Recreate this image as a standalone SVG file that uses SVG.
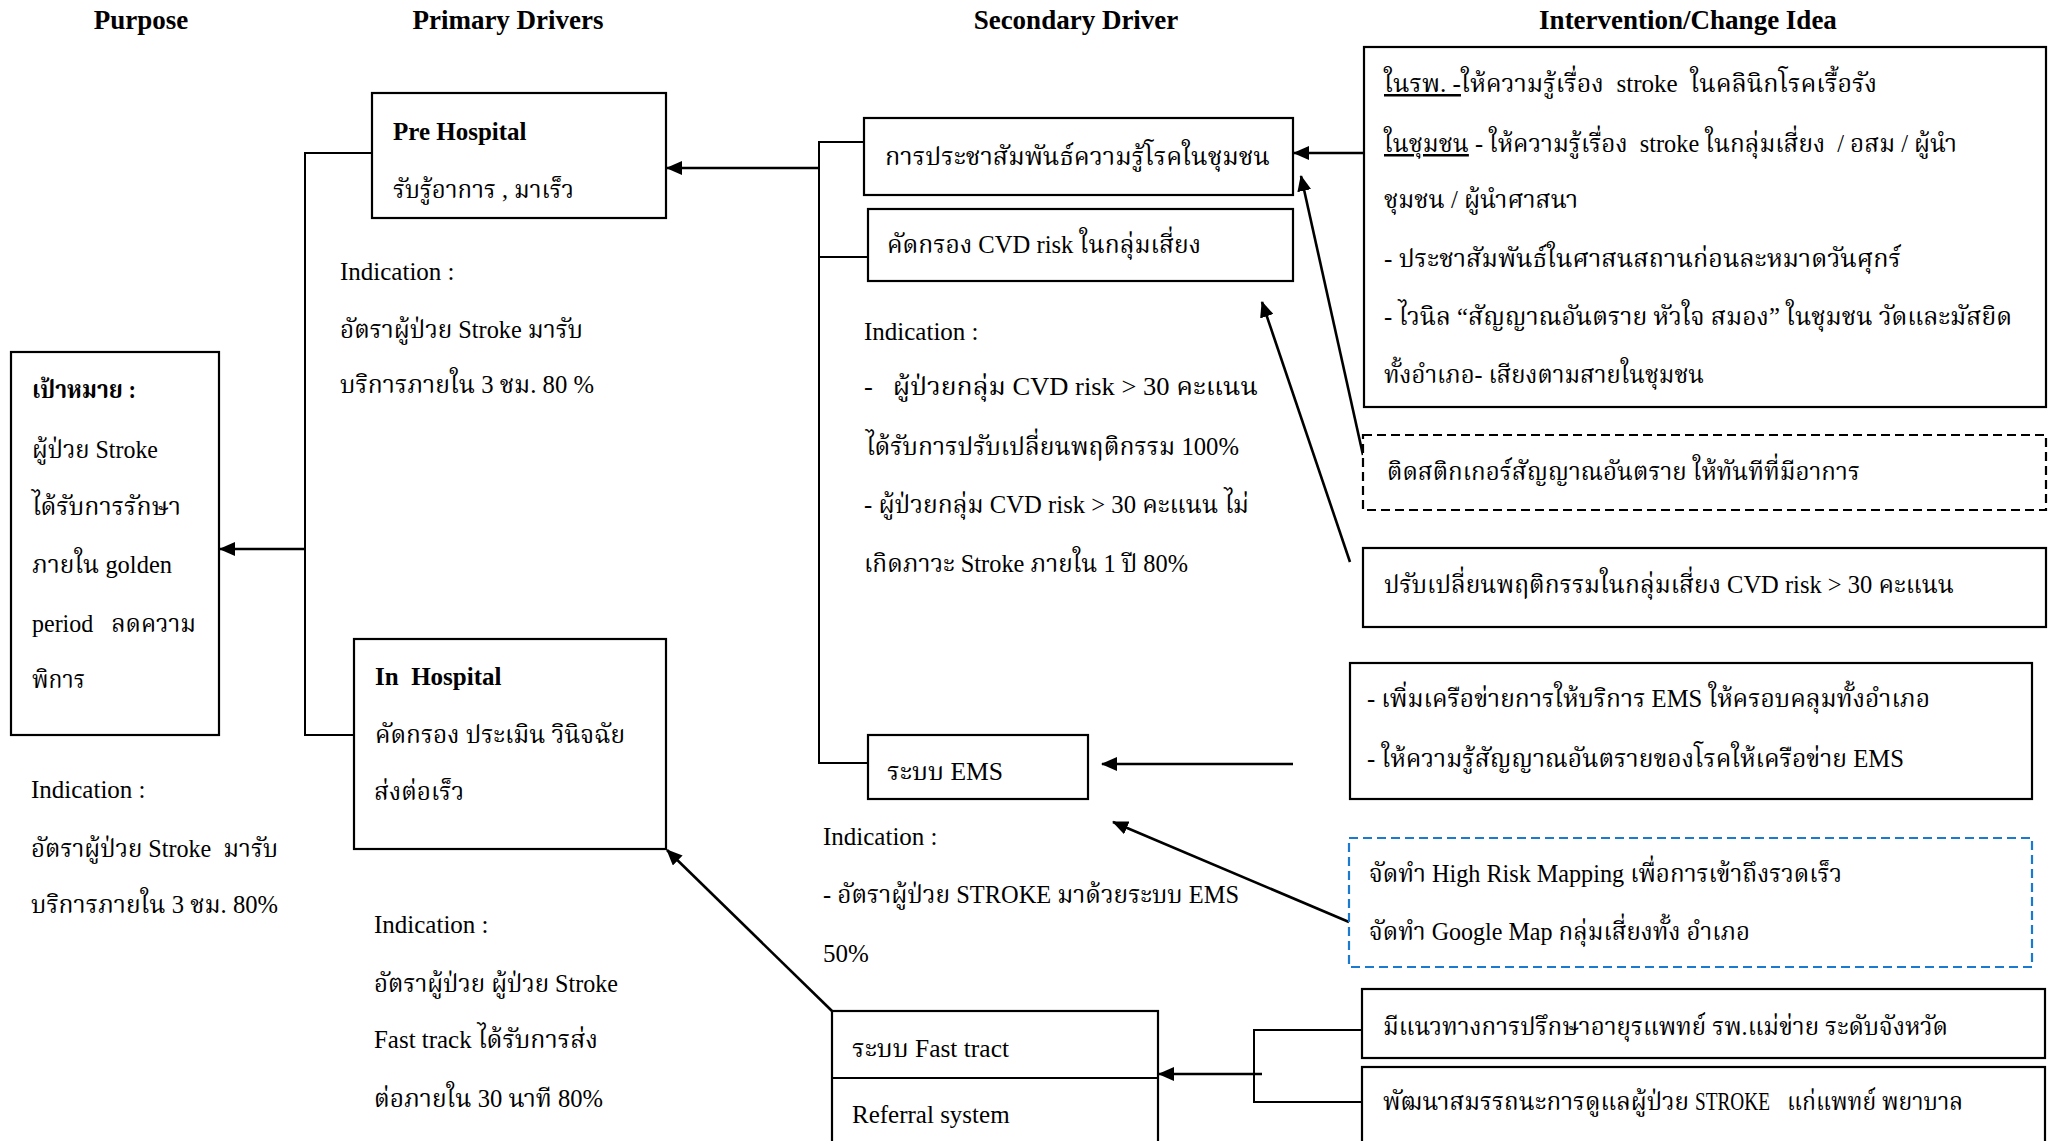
<svg xmlns="http://www.w3.org/2000/svg" width="2054" height="1141" viewBox="0 0 2054 1141">
<defs>
<style>
text{font-family:"Liberation Serif","Noto Serif Thai","Noto Sans Thai",serif;font-size:25px;fill:#000}
.h{font-weight:bold;font-size:27px;text-anchor:middle}
.b{font-weight:bold}
.box{fill:#fff;stroke:#000;stroke-width:2.2}
.dash{fill:#fff;stroke:#000;stroke-width:2.2;stroke-dasharray:9 5}
.blue{fill:#fff;stroke:#1a7ad0;stroke-width:2.2;stroke-dasharray:9 5}
.ln{fill:none;stroke:#000;stroke-width:2}
.ar{fill:none;stroke:#000;stroke-width:2.6;marker-end:url(#ah)}
.u{text-decoration:underline}
</style>
<marker id="ah" markerUnits="userSpaceOnUse" markerWidth="16" markerHeight="14" refX="15" refY="7" orient="auto">
<path d="M0,0 L16,7 L0,14 z" fill="#000"/>
</marker>
</defs>
<rect width="2054" height="1141" fill="#fff"/>

<g id="headers">
<text class="h" x="141" y="29">Purpose</text>
<text class="h" x="508" y="29">Primary Drivers</text>
<text class="h" x="1076" y="29">Secondary Driver</text>
<text class="h" x="1688" y="29">Intervention/Change Idea</text>
</g>

<g id="connectors">
<polyline class="ln" points="372,153 305,153 305,735 354,735"/>
<line class="ar" x1="305" y1="549" x2="220" y2="549"/>
<polyline class="ln" points="864,142 819,142 819,763 868,763"/>
<line class="ln" x1="819" y1="257" x2="868" y2="257"/>
<line class="ar" x1="819" y1="168" x2="667" y2="168"/>
<line class="ar" x1="1364" y1="153" x2="1294" y2="153"/>
<line class="ar" x1="1363" y1="455" x2="1301" y2="176"/>
<line class="ar" x1="1350" y1="562" x2="1262" y2="302"/>
<line class="ar" x1="1293" y1="764" x2="1102" y2="764"/>
<line class="ar" x1="1349" y1="922" x2="1113" y2="822"/>
<line class="ar" x1="832" y1="1011" x2="667" y2="850"/>
<polyline class="ln" points="1362,1030 1254,1030 1254,1102 1362,1102"/>
<line class="ar" x1="1262" y1="1074" x2="1159" y2="1074"/>
</g>

<g id="goal">
<rect class="box" x="11" y="352" width="208" height="383"/>
<text class="b" x="32" y="398" textLength="104" lengthAdjust="spacingAndGlyphs">เป้าหมาย :</text>
<text x="32" y="458" textLength="126" lengthAdjust="spacingAndGlyphs">ผู้ป่วย Stroke</text>
<text x="32" y="515" textLength="149" lengthAdjust="spacingAndGlyphs">ได้รับการรักษา</text>
<text x="32" y="573" textLength="140" lengthAdjust="spacingAndGlyphs">ภายใน golden</text>
<text x="32" y="632" textLength="164" lengthAdjust="spacingAndGlyphs" xml:space="preserve">period   ลดความ</text>
<text x="32" y="688" textLength="53" lengthAdjust="spacingAndGlyphs">พิการ</text>
</g>
<g id="goal-indication">
<text x="31" y="798">Indication :</text>
<text x="31" y="857" textLength="247" lengthAdjust="spacingAndGlyphs" xml:space="preserve">อัตราผู้ป่วย Stroke  มารับ</text>
<text x="31" y="913" textLength="247" lengthAdjust="spacingAndGlyphs">บริการภายใน 3 ชม. 80%</text>
</g>

<g id="pre-hospital">
<rect class="box" x="372" y="93" width="294" height="125"/>
<text class="b" x="393" y="140">Pre Hospital</text>
<text x="393" y="198" textLength="181" lengthAdjust="spacingAndGlyphs">รับรู้อาการ , มาเร็ว</text>
</g>
<g id="pre-indication">
<text x="340" y="280">Indication :</text>
<text x="340" y="338" textLength="243" lengthAdjust="spacingAndGlyphs">อัตราผู้ป่วย Stroke มารับ</text>
<text x="340" y="393" textLength="254" lengthAdjust="spacingAndGlyphs">บริการภายใน 3 ชม. 80 %</text>
</g>

<g id="in-hospital">
<rect class="box" x="354" y="639" width="312" height="210"/>
<text class="b" x="375" y="685" xml:space="preserve">In  Hospital</text>
<text x="375" y="743" textLength="250" lengthAdjust="spacingAndGlyphs">คัดกรอง ประเมิน วินิจฉัย</text>
<text x="374" y="800" textLength="90" lengthAdjust="spacingAndGlyphs">ส่งต่อเร็ว</text>
</g>
<g id="in-indication">
<text x="374" y="933">Indication :</text>
<text x="374" y="992" textLength="244" lengthAdjust="spacingAndGlyphs">อัตราผู้ป่วย ผู้ป่วย Stroke</text>
<text x="374" y="1048" textLength="224" lengthAdjust="spacingAndGlyphs">Fast track ได้รับการส่ง</text>
<text x="374" y="1107" textLength="229" lengthAdjust="spacingAndGlyphs">ต่อภายใน 30 นาที 80%</text>
</g>

<g id="sd-publicity">
<rect class="box" x="864" y="118" width="429" height="77"/>
<text x="885" y="165" textLength="385" lengthAdjust="spacingAndGlyphs">การประชาสัมพันธ์ความรู้โรคในชุมชน</text>
</g>
<g id="sd-screening">
<rect class="box" x="868" y="209" width="425" height="72"/>
<text x="887" y="253" textLength="314" lengthAdjust="spacingAndGlyphs">คัดกรอง CVD risk ในกลุ่มเสี่ยง</text>
</g>
<g id="sd-indication">
<text x="864" y="340">Indication :</text>
<text x="864" y="395" textLength="394" lengthAdjust="spacingAndGlyphs" xml:space="preserve">-   ผู้ป่วยกลุ่ม CVD risk &gt; 30 คะแนน</text>
<text x="866" y="455" textLength="373" lengthAdjust="spacingAndGlyphs">ได้รับการปรับเปลี่ยนพฤติกรรม 100%</text>
<text x="864" y="513" textLength="385" lengthAdjust="spacingAndGlyphs">- ผู้ป่วยกลุ่ม CVD risk &gt; 30 คะแนน ไม่</text>
<text x="864" y="572" textLength="324" lengthAdjust="spacingAndGlyphs">เกิดภาวะ Stroke ภายใน 1 ปี 80%</text>
</g>
<g id="sd-ems">
<rect class="box" x="868" y="735" width="220" height="64"/>
<text x="887" y="780" textLength="116" lengthAdjust="spacingAndGlyphs">ระบบ EMS</text>
</g>
<g id="ems-indication">
<text x="823" y="845">Indication :</text>
<text x="823" y="903" textLength="416" lengthAdjust="spacingAndGlyphs">- อัตราผู้ป่วย STROKE มาด้วยระบบ EMS</text>
<text x="823" y="962">50%</text>
</g>
<g id="sd-fasttract">
<rect class="box" x="832" y="1011" width="326" height="150"/>
<line class="ln" x1="832" y1="1078" x2="1158" y2="1078"/>
<text x="852" y="1057" textLength="157" lengthAdjust="spacingAndGlyphs">ระบบ Fast tract</text>
<text x="852" y="1123">Referral system</text>
</g>

<g id="iv-education">
<rect class="box" x="1364" y="47" width="682" height="360"/>
<text x="1384" y="92" textLength="493" lengthAdjust="spacingAndGlyphs" xml:space="preserve"><tspan class="u">ในรพ. -</tspan>ให้ความรู้เรื่อง  stroke  ในคลินิกโรคเรื้อรัง</text>
<text x="1384" y="152" textLength="573" lengthAdjust="spacingAndGlyphs" xml:space="preserve"><tspan class="u">ในชุมชน</tspan> - ให้ความรู้เรื่อง  stroke ในกลุ่มเสี่ยง  / อสม / ผู้นำ</text>
<text x="1384" y="208" textLength="194" lengthAdjust="spacingAndGlyphs">ชุมชน / ผู้นำศาสนา</text>
<text x="1384" y="267" textLength="517" lengthAdjust="spacingAndGlyphs">- ประชาสัมพันธ์ในศาสนสถานก่อนละหมาดวันศุกร์</text>
<text x="1384" y="325" textLength="628" lengthAdjust="spacingAndGlyphs">- ไวนิล “สัญญาณอันตราย หัวใจ สมอง” ในชุมชน วัดและมัสยิด</text>
<text x="1384" y="383" textLength="320" lengthAdjust="spacingAndGlyphs">ทั้งอำเภอ- เสียงตามสายในชุมชน</text>
</g>
<g id="iv-sticker">
<rect class="dash" x="1363" y="435" width="683" height="75"/>
<text x="1387" y="480" textLength="473" lengthAdjust="spacingAndGlyphs">ติดสติกเกอร์สัญญาณอันตราย ให้ทันทีที่มีอาการ</text>
</g>
<g id="iv-behavior">
<rect class="box" x="1363" y="548" width="683" height="79"/>
<text x="1384" y="593" textLength="570" lengthAdjust="spacingAndGlyphs">ปรับเปลี่ยนพฤติกรรมในกลุ่มเสี่ยง CVD risk &gt; 30 คะแนน</text>
</g>
<g id="iv-ems">
<rect class="box" x="1350" y="663" width="682" height="136"/>
<text x="1367" y="707" textLength="563" lengthAdjust="spacingAndGlyphs">- เพิ่มเครือข่ายการให้บริการ EMS ให้ครอบคลุมทั้งอำเภอ</text>
<text x="1367" y="767" textLength="537" lengthAdjust="spacingAndGlyphs">- ให้ความรู้สัญญาณอันตรายของโรคให้เครือข่าย EMS</text>
</g>
<g id="iv-mapping">
<rect class="blue" x="1349" y="838" width="683" height="129"/>
<text x="1369" y="882" textLength="473" lengthAdjust="spacingAndGlyphs">จัดทำ High Risk Mapping เพื่อการเข้าถึงรวดเร็ว</text>
<text x="1369" y="940" textLength="381" lengthAdjust="spacingAndGlyphs">จัดทำ Google Map กลุ่มเสี่ยงทั้ง อำเภอ</text>
</g>
<g id="iv-consult">
<rect class="box" x="1362" y="989" width="683" height="69"/>
<text x="1383" y="1035" textLength="565" lengthAdjust="spacingAndGlyphs">มีแนวทางการปรึกษาอายุรแพทย์ รพ.แม่ข่าย ระดับจังหวัด</text>
</g>
<g id="iv-training">
<rect class="box" x="1362" y="1067" width="683" height="94"/>
<text x="1383" y="1110" textLength="306" lengthAdjust="spacingAndGlyphs">พัฒนาสมรรถนะการดูแลผู้ป่วย</text>
<text x="1695" y="1110" font-size="19" textLength="75" lengthAdjust="spacingAndGlyphs">STROKE</text>
<text x="1787" y="1110" textLength="176" lengthAdjust="spacingAndGlyphs">แก่แพทย์ พยาบาล</text>
</g>
</svg>
